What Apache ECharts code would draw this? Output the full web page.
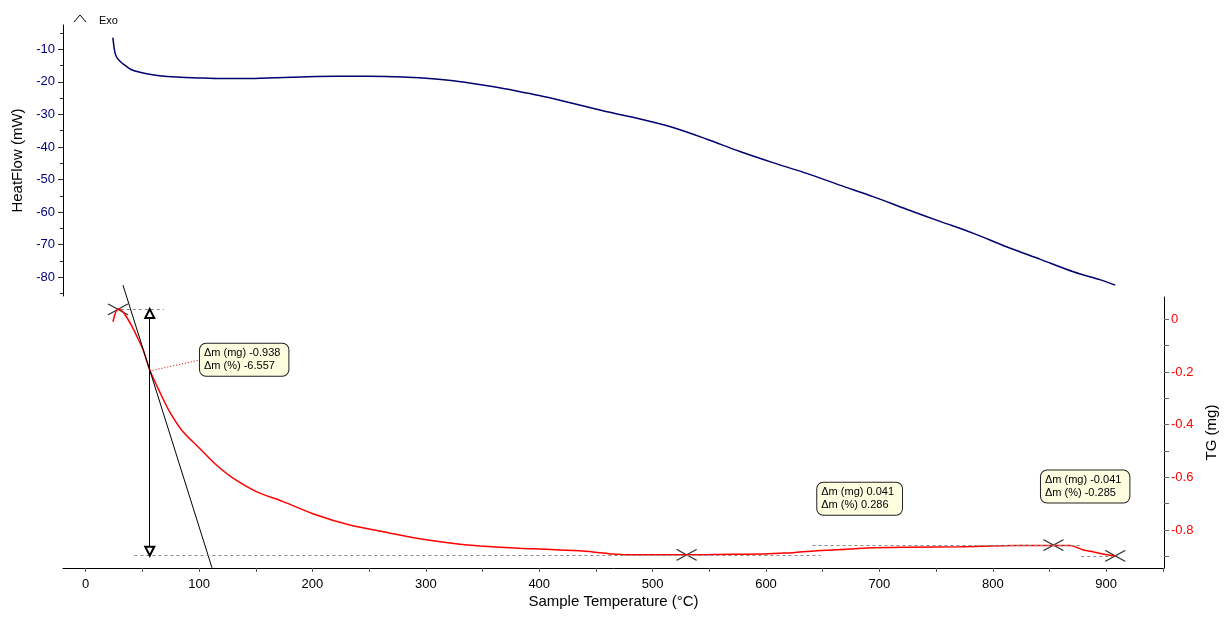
<!DOCTYPE html>
<html>
<head>
<meta charset="utf-8">
<script src="https://cdn.jsdelivr.net/npm/echarts@6/dist/echarts.min.js"></script>
<style>
html, body { margin: 0; padding: 0; background: #fff; }
#chart { width: 1232px; height: 624px; }
</style>
</head>
<body>
<div id="chart"></div>
<script>
// DSC heat flow curve (upper panel)
var hfTemp = [24, 25.5, 27, 30, 35, 40, 47, 55, 65, 80, 100, 120, 140, 160, 190, 220, 250, 280, 300, 320,
  340, 360, 380, 400, 420, 440, 460, 489, 518, 548, 577, 606, 636, 665, 695, 724, 754, 783, 812, 842, 871, 895, 908];
var hfFlow = [-6.4, -10.5, -12.2, -13.6, -15.0, -16.2, -17.0, -17.6, -18.1, -18.5, -18.8, -19.0, -19.0, -18.8, -18.5, -18.3, -18.3, -18.5, -18.9, -19.5,
  -20.4, -21.5, -22.8, -24.2, -25.8, -27.5, -29.2, -31.4, -34.0, -37.6, -41.4, -44.8, -48.1, -51.7, -55.3, -59.1, -62.9, -66.5, -70.6, -74.5, -78.3, -80.8, -82.4];

// TG curve (lower panel)
var tgTemp = [24.1, 25.5, 27, 28.5, 31, 33.5, 35.9, 40, 44.7, 50.6, 56.5, 65.3, 74.1, 85.9, 100.6, 115.3, 130, 150.6, 174.1, 203.6,
  233, 262.3, 291.8, 330, 347.6, 383, 406.5, 430, 447.6, 465, 477, 530, 568, 595, 612, 624, 642, 671, 689, 727,
  771, 821, 868, 872, 880, 889, 900.6, 908];
var tgMass = [-0.009, 0.015, 0.032, 0.039, 0.036, 0.025, 0.010, -0.020, -0.060, -0.115, -0.192, -0.275, -0.351, -0.427, -0.490, -0.553, -0.603, -0.654, -0.692, -0.743,
  -0.781, -0.806, -0.831, -0.854, -0.860, -0.869, -0.873, -0.878, -0.883, -0.891, -0.894, -0.894, -0.892, -0.891, -0.888, -0.886, -0.879, -0.873, -0.868, -0.865,
  -0.863, -0.859, -0.859, -0.862, -0.876, -0.883, -0.894, -0.898];

// axis ticks
var tempLabels = [0, 100, 200, 300, 400, 500, 600, 700, 800, 900];
var tempTicks = [0, 50, 100, 150, 200, 250, 300, 350, 400, 450, 500, 550, 600, 650, 700, 750, 800, 850, 900, 950];
var hfLabels = [-80, -70, -60, -50, -40, -30, -20, -10];
var hfMinor = [-85, -75, -65, -55, -45, -35, -25, -15, -5];
var tgLabels = [0, -0.2, -0.4, -0.6, -0.8];
var tgTicks = [0, -0.1, -0.2, -0.3, -0.4, -0.5, -0.6, -0.7, -0.8, -0.9];

// step evaluation marks
var crossTemp = [28.5, 530, 853.5, 908];
var crossMass = [0.038, -0.894, -0.857, -0.898];
var tangentTemp = [32.9, 111.4];
var tangentMass = [0.130, -0.943];
var levelFrom = [31, 43, 641, 878];
var levelTo = [69, 648, 877, 906];
var levelMass = [0.038, -0.894, -0.857, -0.898];
var arrowTemp = 56.5;
var arrowMass = [0.022, -0.880];
var leaderTemp = [56.5, 100.6];
var leaderMass = [-0.196, -0.154];
var boxTemp = [100.8, 645.2, 842.5];
var boxMass = [-0.153, -0.681, -0.635];
var boxMg = ['-0.938', '0.041', '-0.041'];
var boxPct = ['-6.557', '0.286', '-0.285'];

var FONT = '"Liberation Sans", Arial, sans-serif';

function zip(a, b) {
  return a.map(function (v, i) { return [v, b[i]]; });
}

var markLines = levelFrom.map(function (t, i) {
  return [{ coord: [t, levelMass[i]] }, { coord: [levelTo[i], levelMass[i]] }];
});
markLines.push([
  { coord: [arrowTemp, arrowMass[0]], symbol: 'emptyTriangle', symbolSize: [9, 9],
    lineStyle: { color: '#000', type: 'solid', width: 1 } },
  { coord: [arrowTemp, arrowMass[1]], symbol: 'emptyTriangle', symbolSize: [9, 9] }
]);
markLines.push([
  { coord: [leaderTemp[0], leaderMass[0]], lineStyle: { color: '#e00000', type: [1, 2], width: 1 } },
  { coord: [leaderTemp[1], leaderMass[1]] }
]);

var boxes = boxTemp.map(function (t, i) {
  return {
    coord: [t, boxMass[i]],
    name: '\u0394m (mg) ' + boxMg[i] + '\n\u0394m (%) ' + boxPct[i]
  };
});

var chart = echarts.init(document.getElementById('chart'), null, { renderer: 'canvas' });

var option = {
  backgroundColor: '#ffffff',
  animation: false,
  textStyle: { fontFamily: FONT },
  grid: [
    { left: 63, right: 68, top: 25, height: 271, outerBoundsMode: 'none' },
    { left: 63, right: 68, top: 297, height: 271, outerBoundsMode: 'none' }
  ],
  xAxis: [
    { type: 'value', gridIndex: 0, min: -20, max: 951, show: false },
    {
      type: 'value', gridIndex: 1, min: -20, max: 951,
      name: 'Sample Temperature (\u00b0C)', nameLocation: 'middle', nameGap: 26,
      nameTextStyle: { color: '#000', fontSize: 15, fontFamily: FONT },
      axisLine: { onZero: false, lineStyle: { color: '#000', width: 1 } },
      axisTick: { customValues: tempTicks, length: 4, lineStyle: { color: '#555' } },
      axisLabel: { customValues: tempLabels, color: '#000', fontSize: 13, margin: 10, fontFamily: FONT },
      splitLine: { show: false }
    }
  ],
  yAxis: [
    {
      type: 'value', gridIndex: 0, min: -85.74, max: -2.54, position: 'left',
      name: 'HeatFlow (mW)', nameLocation: 'middle', nameGap: 33, nameRotate: 90,
      nameTextStyle: { color: '#000', fontSize: 15, fontFamily: FONT },
      axisLine: { show: true, onZero: false, lineStyle: { color: '#000', width: 1 } },
      axisTick: { customValues: hfLabels, length: 5, lineStyle: { color: '#333' } },
      axisLabel: { customValues: hfLabels, color: '#000080', fontSize: 13, margin: 8, fontFamily: FONT },
      splitLine: { show: false }
    },
    {
      type: 'value', gridIndex: 0, min: -85.74, max: -2.54, position: 'left',
      axisLine: { show: false, onZero: false },
      axisTick: { customValues: hfMinor, length: 3, lineStyle: { color: '#333' } },
      axisLabel: { show: false },
      splitLine: { show: false }
    },
    {
      type: 'value', gridIndex: 1, min: -0.944, max: 0.085, position: 'right',
      name: 'TG (mg)', nameLocation: 'middle', nameGap: 40, nameRotate: 90,
      nameTextStyle: { color: '#000', fontSize: 15, fontFamily: FONT },
      axisLine: { show: true, onZero: false, lineStyle: { color: '#000', width: 1 } },
      axisTick: { customValues: tgTicks, length: 5, lineStyle: { color: '#666' } },
      axisLabel: { customValues: tgLabels, color: '#ff0000', fontSize: 13, margin: 7, fontFamily: FONT },
      splitLine: { show: false }
    }
  ],
  graphic: [
    { type: 'polyline', shape: { points: [[74, 22], [80, 15], [86, 22]] }, style: { stroke: '#000', lineWidth: 1, fill: null } },
    { type: 'text', x: 99, y: 21, style: { text: 'Exo', fill: '#000', font: '11px ' + FONT, verticalAlign: 'middle' } }
  ],
  series: [
    {
      name: 'HeatFlow', type: 'line', xAxisIndex: 0, yAxisIndex: 0,
      data: zip(hfTemp, hfFlow), showSymbol: false, smooth: 0.3,
      lineStyle: { color: '#000070', width: 1.5 }
    },
    {
      name: 'TG', type: 'line', xAxisIndex: 1, yAxisIndex: 2,
      data: zip(tgTemp, tgMass), showSymbol: false, smooth: 0.3,
      lineStyle: { color: '#ff0000', width: 1.5 },
      markLine: {
        silent: true, symbol: ['none', 'none'], label: { show: false },
        lineStyle: { color: '#8a8a8a', type: [3, 3], width: 1 },
        emphasis: { disabled: true },
        data: markLines
      },
      markPoint: {
        silent: true, symbol: 'circle', symbolSize: 1,
        itemStyle: { color: 'rgba(0,0,0,0)' },
        label: {
          show: true, position: 'inside', formatter: '{b}', align: 'left',
          color: '#000', fontSize: 11, lineHeight: 13, fontFamily: FONT,
          backgroundColor: '#fdfde0', borderColor: '#222', borderWidth: 1, borderRadius: 6,
          padding: [3, 8, 3, 4]
        },
        data: boxes
      }
    },
    {
      name: 'tangent', type: 'line', xAxisIndex: 1, yAxisIndex: 2, clip: false,
      data: zip(tangentTemp, tangentMass), showSymbol: false, silent: true,
      lineStyle: { color: '#000', width: 1 }
    },
    {
      name: 'marks', type: 'scatter', xAxisIndex: 1, yAxisIndex: 2, clip: false, silent: true,
      data: zip(crossTemp, crossMass),
      symbol: 'path://M0,0L20,11M0,11L20,0', symbolSize: [20, 11],
      itemStyle: { color: 'rgba(0,0,0,0)', borderColor: '#000', borderWidth: 1.2 }
    }
  ]
};

chart.setOption(option);
</script>
</body>
</html>
